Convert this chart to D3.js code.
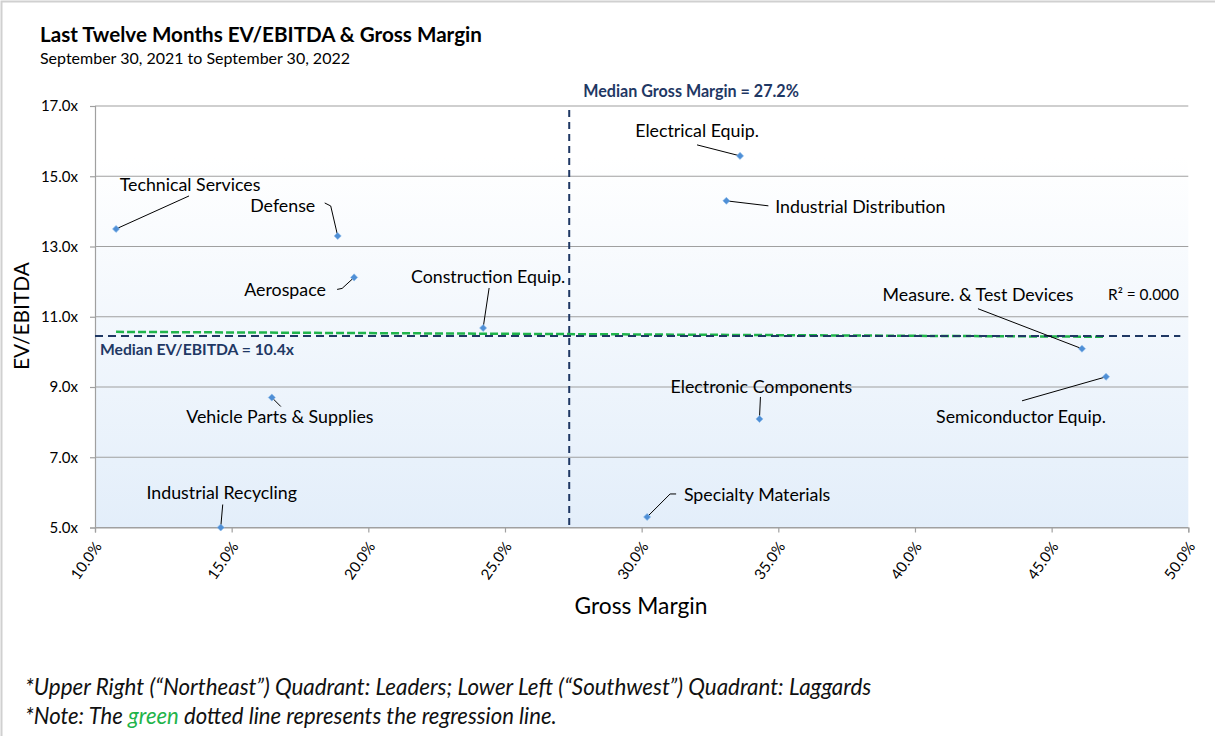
<!DOCTYPE html>
<html><head><meta charset="utf-8">
<script src="https://cdn.jsdelivr.net/npm/d3@7"></script>
<style>
body{margin:0;background:#fff;}
svg{display:block;font-family:Lato,'Open Sans',sans-serif;}
</style>
</head><body>
<svg id="chart" width="1215" height="736"></svg>
<script>
// ---------- DATA ----------
const categories = ["Technical Services","Defense","Aerospace","Construction Equip.","Vehicle Parts & Supplies",
  "Industrial Recycling","Specialty Materials","Electronic Components","Electrical Equip.",
  "Industrial Distribution","Measure. & Test Devices","Semiconductor Equip."];
const grossMargin = [10.77, 18.88, 19.48, 24.20, 16.47, 14.60, 30.20, 34.31, 33.60, 33.10, 46.11, 46.99];
const evEbitda    = [13.50, 13.30, 12.12, 10.68,  8.70,  5.00,  5.30,  8.09, 15.58, 14.30, 10.09,  9.29];
const xTickValues = [10, 15, 20, 25, 30, 35, 40, 45, 50];
const yTickValues = [5, 7, 9, 11, 13, 15, 17];
const medianGrossMargin = 27.35;
const medianGrossMarginLabel = "Median Gross Margin = 27.2%";
const medianEvEbitda = 10.45;
const medianEvEbitdaLabel = "Median EV/EBITDA = 10.4x";
const regressionX = [10.77, 46.99];
const regressionY = [10.57, 10.43];
const rSquaredLabel = "R\u00B2 = 0.000";
const titleText = "Last Twelve Months EV/EBITDA & Gross Margin";
const subtitleText = "September 30, 2021 to September 30, 2022";
const xTitle = "Gross Margin", yTitle = "EV/EBITDA";
const note1 = "*Upper Right (\u201CNortheast\u201D) Quadrant: Leaders; Lower Left (\u201CSouthwest\u201D) Quadrant: Laggards";
const note2Parts = ["*Note: The ", "green", " dotted line represents the regression line."];

// ---------- LAYOUT (label offsets relative to point, px) ----------
const labelLayout = {
  "Technical Services":      {t:[74,-44],  s:[73,-33]},
  "Defense":                 {t:[-55,-30], s:[-13,-33], e:[-7,-30]},
  "Aerospace":               {t:[-69,12],  s:[-17,12],  e:[-12,11]},
  "Construction Equip.":     {t:[5,-51],   s:[6,-40]},
  "Vehicle Parts & Supplies":{t:[8,19],    s:[9,9]},
  "Industrial Recycling":    {t:[1,-35],   s:[2,-23]},
  "Specialty Materials":     {t:[110,-22], s:[29,-23], e:[23,-23]},
  "Electronic Components":   {t:[2,-32],   s:[1,-22]},
  "Electrical Equip.":       {t:[-43,-25], s:[-43,-11]},
  "Industrial Distribution": {t:[134,6],   s:[42,5]},
  "Measure. & Test Devices": {t:[-104,-54],s:[-104,-40]},
  "Semiconductor Equip.":    {t:[-85,40],  s:[-84,24]}
};

const svg = d3.select("#chart");
const plot = {left:95, right:1188.3, top:106, bottom:527.5};
const x = d3.scaleLinear().domain([10,50]).range([plot.left, plot.right]);
const y = d3.scaleLinear().domain([5,17]).range([plot.bottom, plot.top]);
const navy = "#1f3864", grid = "#a0a0a0";

function fit(sel, w){
  const n = sel.node(); const fs = parseFloat(sel.attr("font-size"));
  const cur = n.getComputedTextLength();
  if (cur>0) sel.attr("font-size", (fs*w/cur).toFixed(2));
  return sel;
}

// outer border
svg.append("rect").attr("x",1.5).attr("y",1.5).attr("width",1240).attr("height",800)
  .attr("fill","#fff").attr("stroke","#d0d0d0").attr("stroke-width",2);

// gradient
const defs = svg.append("defs");
const lg = defs.append("linearGradient").attr("id","bg").attr("x1",0).attr("y1",0).attr("x2",0).attr("y2",1);
lg.append("stop").attr("offset","0").attr("stop-color","#ffffff");
lg.append("stop").attr("offset","0.12").attr("stop-color","#ffffff");
lg.append("stop").attr("offset","1").attr("stop-color","#e3eefa");
svg.append("rect").attr("x",plot.left).attr("y",plot.top)
  .attr("width",plot.right-plot.left).attr("height",plot.bottom-plot.top).attr("fill","url(#bg)");

// title
fit(svg.append("text").attr("x",40).attr("y",42).attr("font-size",19).attr("font-weight",700)
  .attr("fill","#000").text(titleText), 442);
fit(svg.append("text").attr("x",40).attr("y",64).attr("font-size",14).attr("fill","#000").text(subtitleText), 310);

// gridlines
svg.append("g").selectAll("line").data(yTickValues).join("line")
  .attr("x1",plot.left).attr("x2",plot.right).attr("y1",d=>y(d)).attr("y2",d=>y(d))
  .attr("stroke",grid).attr("stroke-width",1.2);

// y axis
const yAxis = svg.append("g").attr("transform",`translate(${plot.left},0)`)
  .call(d3.axisLeft(y).tickValues(yTickValues).tickSize(5).tickPadding(12).tickFormat(d=>d3.format(".1f")(d)+"x"));
yAxis.select(".domain").attr("stroke",grid).attr("stroke-width",1.2);
yAxis.selectAll(".tick line").attr("stroke",grid).attr("stroke-width",1.2);
yAxis.selectAll(".tick text").attr("font-size",15).attr("font-family","Lato").attr("fill","#000");

// x axis
const xAxis = svg.append("g").attr("transform",`translate(0,${plot.bottom})`)
  .call(d3.axisBottom(x).tickValues(xTickValues).tickSize(5).tickFormat(d=>d3.format(".1f")(d)+"%"));
xAxis.select(".domain").attr("stroke",grid).attr("stroke-width",1.2);
xAxis.selectAll(".tick line").attr("stroke",grid).attr("stroke-width",1.2);
xAxis.selectAll(".tick text").attr("font-size",15).attr("font-family","Lato").attr("fill","#000")
  .attr("text-anchor","end").attr("dy",0).attr("y",0)
  .attr("transform","translate(7,19) rotate(-55)");

// axis titles
fit(svg.append("text").attr("transform","translate(29,316) rotate(-90)").attr("text-anchor","middle")
  .attr("font-size",20).attr("fill","#000").text(yTitle),108);
fit(svg.append("text").attr("x",641).attr("y",614).attr("text-anchor","middle")
  .attr("font-size",20).attr("fill","#000").text(xTitle),133);

// median vertical
svg.append("line").attr("x1",x(medianGrossMargin)).attr("x2",x(medianGrossMargin))
  .attr("y1",plot.top+4).attr("y2",plot.bottom)
  .attr("stroke",navy).attr("stroke-width",2).attr("stroke-dasharray","7,5");
fit(svg.append("text").attr("x",x(medianGrossMargin)+14).attr("y",97).attr("font-size",13.5)
  .attr("font-weight",700).attr("fill",navy).text(medianGrossMarginLabel),216);

// regression (green)
svg.append("path").datum(regressionX.map((d,i)=>[d,regressionY[i]]))
  .attr("d",d3.line().x(d=>x(d[0])).y(d=>y(d[1])))
  .attr("fill","none").attr("stroke","#1fb44b").attr("stroke-width",2.5).attr("stroke-dasharray","8,3");

// median horizontal
svg.append("line").attr("x1",plot.left).attr("x2",plot.right-8)
  .attr("y1",y(medianEvEbitda)).attr("y2",y(medianEvEbitda))
  .attr("stroke",navy).attr("stroke-width",2).attr("stroke-dasharray","8,5");
fit(svg.append("text").attr("x",plot.left+5).attr("y",355).attr("font-size",13.5)
  .attr("font-weight",700).attr("fill",navy).text(medianEvEbitdaLabel),194);

fit(svg.append("text").attr("x",1108).attr("y",300).attr("font-size",14).attr("fill","#000").text(rSquaredLabel),71);

// points, labels, leaders
const pts = categories.map((c,i)=>({name:c, px:x(grossMargin[i]), py:y(evEbitda[i])}));
const lab = svg.append("g");
pts.forEach(p=>{
  const L = labelLayout[p.name];
  const seg = [[p.px+L.s[0], p.py+L.s[1]]];
  if (L.e) seg.push([p.px+L.e[0], p.py+L.e[1]]);
  seg.push([p.px, p.py]);
  lab.append("path").attr("d",d3.line()(seg)).attr("fill","none").attr("stroke","#000").attr("stroke-width",1);
  lab.append("text").attr("x",p.px+L.t[0]).attr("y",p.py+L.t[1]).attr("dy","0.36em")
    .attr("text-anchor","middle").attr("font-size",17.8).attr("fill","#000").text(p.name);
});
svg.append("g").selectAll("path").data(pts).join("path")
  .attr("transform",d=>`translate(${d.px},${d.py}) rotate(45)`)
  .attr("d",d3.symbol(d3.symbolSquare,25)())
  .attr("fill","#4f8fd6").attr("stroke","#8cbbeb").attr("stroke-width",0.6);

// footnotes
fit(svg.append("text").attr("x",25).attr("y",695).attr("font-size",17).attr("font-style","italic")
  .attr("fill","#111").text(note1),847);
const n2 = svg.append("text").attr("x",25).attr("y",724).attr("font-size",17).attr("font-style","italic").attr("fill","#111");
note2Parts.forEach((t,i)=>n2.append("tspan").attr("fill", i===1?"#1fb44b":"#111").text(t));
fit(n2,532);
</script>
</body></html>
